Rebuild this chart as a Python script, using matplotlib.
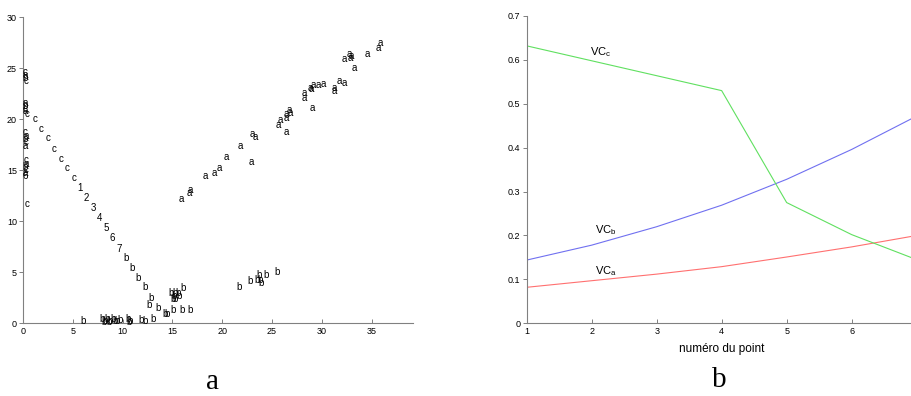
import numpy as np
import matplotlib.pyplot as plt

plt.rcParams['font.family'] = ['Liberation Sans', 'DejaVu Sans']
plt.rcParams['mathtext.fontset'] = 'custom'
plt.rcParams['mathtext.rm'] = 'Liberation Sans'

# ---- panel a : text markers (x, y) ----
a_x = [15.9, 16.65, 16.75, 18.26, 19.17, 19.67, 20.4, 21.85, 22.9, 23.0, 23.3,
       25.66, 25.86, 26.47, 26.73, 26.8, 26.47, 26.47, 28.2, 28.2, 29.08,
       28.9, 28.97, 29.2, 29.64, 30.2, 31.3, 31.3, 31.8, 32.25,
       32.25, 32.8, 32.9, 33.0, 33.25, 34.6, 35.7, 35.85]
a_y = [12.2, 12.7, 13.0, 14.4, 14.7, 15.2, 16.3, 17.35, 15.75, 18.5, 18.2,
       19.4, 19.9, 20.1, 20.9, 20.6, 20.5, 18.75, 22.6, 22.1, 21.1,
       23.0, 22.9, 23.3, 23.3, 23.4, 23.0, 22.75, 23.75, 23.55,
       25.9, 26.35, 25.95, 26.2, 25.0, 26.35, 27.0, 27.5]

b_x = [10.3, 10.96, 11.6, 12.24, 12.9, 12.64, 13.57, 13.07, 14.25, 14.5,
       15.08, 16.0, 16.8, 14.9, 15.3, 15.6, 15.05, 15.3, 15.7, 15.2, 16.1,
       6.05, 7.9, 8.2, 8.45, 8.72, 9.06, 9.4, 9.73, 10.56, 10.73, 11.9, 12.24,
       8.1, 8.6, 9.2, 10.6,
       21.7, 22.85, 23.7, 23.8, 23.5, 23.9, 24.4, 25.5]
b_y = [6.4, 5.4, 4.4, 3.5, 2.5, 1.8, 1.5, 0.4, 0.9, 0.9,
       1.3, 1.3, 1.3, 2.9, 2.9, 2.9, 2.4, 2.4, 2.6, 2.6, 3.4,
       0.15, 0.35, 0.2, 0.35, 0.2, 0.35, 0.2, 0.3, 0.35, 0.2, 0.3, 0.15,
       0.1, 0.1, 0.2, 0.1,
       3.5, 4.15, 4.7, 4.2, 4.2, 3.9, 4.7, 5.0]

c_x = [1.19, 1.84, 2.47, 3.13, 3.77, 4.44, 5.11, 0.4, 0.4,
       0.2, 0.25, 0.2, 0.25, 0.2, 0.25, 0.2, 0.25, 0.2,
       0.3, 0.2, 0.25, 0.2, 0.25, 0.3, 0.2, 0.25, 0.2, 0.25, 0.2]
c_y = [20.0, 19.0, 18.1, 17.1, 16.1, 15.2, 14.2, 20.5, 11.7,
       24.6, 24.3, 24.0, 23.7, 21.6, 21.3, 21.0, 20.8, 18.7,
       18.3, 18.0, 17.7, 17.4, 16.0, 15.6, 15.3, 15.0, 14.7, 14.4, 12.6]
c_txt = ['c'] * 7 + ['c', 'c'] + ['c', 'a', 'b', 'c', 'a', 'b', 'c', 'a', 'c',
                                  'a', 'b', 'c', 'a', 'c', 'a', 'b', 'c', 'a', '6']

num_x = [5.71, 6.39, 7.05, 7.72, 8.32, 9.0, 9.63]
num_y = [13.2, 12.3, 11.3, 10.3, 9.3, 8.3, 7.3]
num_txt = ['1', '2', '3', '4', '5', '6', '7']

# ---- panel b : curves ----
point = [1, 2, 3, 4, 5, 6, 7]
vc_a = [0.082, 0.097, 0.112, 0.129, 0.151, 0.174, 0.200]
vc_b = [0.144, 0.178, 0.220, 0.269, 0.328, 0.396, 0.472]
vc_c = [0.632, 0.598, 0.564, 0.530, 0.275, 0.202, 0.145]

fig = plt.figure(figsize=(9.12, 3.96), dpi=100)
grey = '#808080'


def style(ax):
    for s in ['top', 'right']:
        ax.spines[s].set_visible(False)
    for s in ['left', 'bottom']:
        ax.spines[s].set_color(grey)
        ax.spines[s].set_linewidth(0.8)
    ax.tick_params(axis='y', direction='out', length=3, width=0.7,
                   color=grey, labelsize=6.5, pad=1.5)
    ax.tick_params(axis='x', direction='in', length=3, width=0.7,
                   color=grey, labelsize=6.5, pad=3)


ax1 = fig.add_axes([0.02533, 0.1843, 0.4279, 0.7727])
style(ax1)
ax1.set_xlim(0, 39.2)
ax1.set_ylim(0, 30)
ax1.set_xticks(np.arange(0, 36, 5))
ax1.set_yticks(np.arange(0, 31, 5))
kw = dict(ha='center', va='center', fontsize=7, clip_on=False)
for x, y in zip(a_x, a_y):
    ax1.text(x, y, 'a', **kw)
for x, y in zip(b_x, b_y):
    ax1.text(x, y, 'b', **kw)
for x, y, t in zip(c_x, c_y, c_txt):
    ax1.text(x, y, t, **kw)
for x, y, t in zip(num_x, num_y, num_txt):
    ax1.text(x, y, t, **kw)

ax2 = fig.add_axes([0.5775, 0.1836, 0.4276, 0.7760])
style(ax2)
ax2.set_xlim(1, 7)
ax2.set_ylim(0, 0.7)
ax2.set_xticks(point[:-1])
ax2.set_yticks(np.arange(0, 0.71, 0.1))
ax2.set_yticklabels(['0', '0.1', '0.2', '0.3', '0.4', '0.5', '0.6', '0.7'])
ax2.plot(point, vc_a, color='#ff7070', lw=0.8)
ax2.plot(point, vc_b, color='#7070f0', lw=0.8)
ax2.plot(point, vc_c, color='#60e060', lw=0.8)
ax2.text(1.974, 0.610, r'VC$_\mathrm{c}$', fontsize=8, va='baseline')
ax2.text(2.05, 0.206, r'VC$_\mathrm{b}$', fontsize=8, va='baseline')
ax2.text(2.05, 0.112, r'VC$_\mathrm{a}$', fontsize=8, va='baseline')
ax2.set_xlabel('numéro du point', fontsize=8.5, labelpad=5)

fig.text(0.2325, 0.035, 'a', family='Liberation Serif', fontsize=21,
         ha='center', va='center')
fig.text(0.789, 0.04, 'b', family='Liberation Serif', fontsize=21,
         ha='center', va='center')

fig.savefig('out.png', dpi=100)
